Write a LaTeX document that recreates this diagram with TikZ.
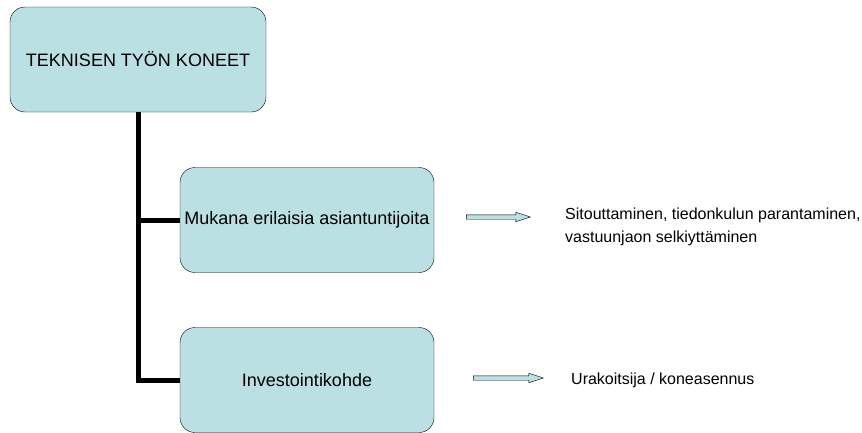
\documentclass[tikz,border=0pt]{standalone}
\usepackage{fontspec}
\setmainfont{Liberation Sans}
\usetikzlibrary{shapes.arrows}
\definecolor{boxblue}{RGB}{187,224,227}

\begin{document}
\begin{tikzpicture}[x=1pt,y=-1pt,
  topic/.style={draw, fill=boxblue, rounded corners=15pt, inner sep=0pt,
    minimum height=105pt, font=\fontsize{18}{21}\selectfont},
  branch/.style={line width=5pt},
  blockarrow/.style={single arrow, draw, fill=boxblue, inner sep=2pt,
    single arrow head extend=2.5pt, single arrow tip angle=36},
  note/.style={anchor=west, align=left, inner sep=0pt, font=\fontsize{16}{23}\selectfont}]
\useasboundingbox (0,0) rectangle (862,432);
\node[topic, minimum width=256pt] (KONEET) at (138,59.5) {TEKNISEN TYÖN KONEET};
\node[topic, minimum width=254pt] (ASIANT) at (307,220) {Mukana erilaisia asiantuntijoita};
\node[topic, minimum width=254pt] (INVEST) at (307,380) {Investointikohde};
\node[blockarrow, minimum height=64pt] (ARR1) at (495,217) {};
\node[blockarrow, minimum height=70pt] (ARR2) at (505,378) {};
\node[note] (SITOUT) at (565,227) {Sitouttaminen, tiedonkulun parantaminen,\\vastuunjaon selkiyttäminen};
\node[note] (URAK) at (571,380) {Urakoitsija / koneasennus};
\draw [branch] (KONEET.south) |- (INVEST.west);
\draw [branch] (KONEET.south |- ASIANT.west) -- (ASIANT.west);
\end{tikzpicture}
\end{document}
